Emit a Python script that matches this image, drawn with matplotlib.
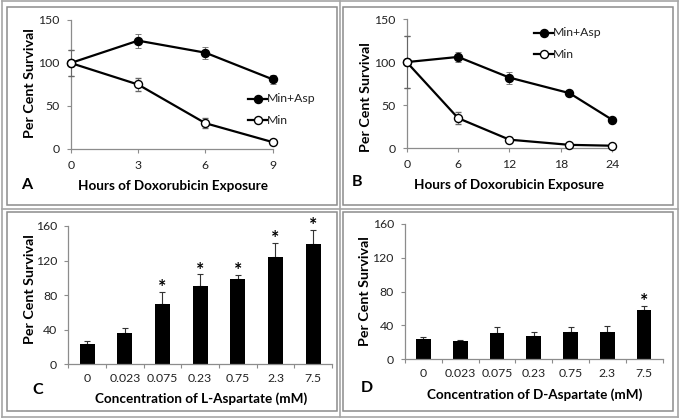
import matplotlib
matplotlib.use("Agg")
import matplotlib.pyplot as plt
from matplotlib.patches import Rectangle
import numpy as np

plt.rcParams['font.family'] = ['Lato', 'DejaVu Sans']

# ---- data ----
hoursA = [0, 3, 6, 9]
minaspA = [100, 126, 112, 81]
minaspA_err = [15, 8, 7, 5]
minA = [100, 75, 30, 8]
minA_err = [15, 8, 6, 2]

hoursB = [0, 6, 12, 19, 24]
minaspB = [100, 106, 82, 64, 33]
minaspB_err = [30, 6, 7, 2, 2]
minB = [100, 35, 10, 4, 3]
minB_err = [30, 7, 3, 1, 1]

conc_labels = ["0", "0.023", "0.075", "0.23", "0.75", "2.3", "7.5"]
survL = [24, 36.5, 70, 91, 99, 124, 139.5]
survL_err = [3.5, 5, 14, 13, 4, 16, 16]
sigL = [False, False, True, True, True, True, True]
survD = [23.5, 21, 30.5, 27, 31.5, 31.5, 57.5]
survD_err = [3, 1, 7, 5, 6, 8, 5]
sigD = [False, False, False, False, False, False, True]

W, H = 680, 418
fig = plt.figure(figsize=(W / 100, H / 100), dpi=100)


def px_rect(l, r, b, t):
    return [l / W, 1 - b / H, (r - l) / W, (b - t) / H]


def ftext(x, y, s, **kw):
    fig.text(x / W, 1 - y / H, s, **kw)


GRAY = '#a6a6a6'


def hline(y, x0, x1, c=GRAY, lw=1.2):
    fig.add_artist(plt.Line2D([x0 / W, x1 / W], [1 - y / H, 1 - y / H], color=c, lw=lw))


def vline(x, y0, y1, c=GRAY, lw=1.2):
    fig.add_artist(plt.Line2D([x / W, x / W], [1 - y0 / H, 1 - y1 / H], color=c, lw=lw))

# outer frame & separators
hline(1.0, 1.5, 678)
hline(416.5, 1.5, 678)
vline(1.5, 1, 416.5)
vline(678, 1, 416.5)
hline(208.5, 1.5, 678)
vline(339.8, 1, 416.5)
# inner panel boxes
for (l, r, t, b) in [(7, 336.5, 7, 205), (342.8, 673, 7, 205),
                     (7, 336.5, 212.3, 411.3), (342.8, 673, 212.3, 411.3)]:
    fig.add_artist(Rectangle((l / W, 1 - b / H), (r - l) / W, (b - t) / H,
                             transform=fig.transFigure, fill=False,
                             edgecolor='#8c8c8c', lw=1.1))

TICKFS = 8.8
XLABFS = 9.7
YLABFS = 10.3
LETFS = 11.5
AXC = '#8c8c8c'


def style(ax):
    for s in ['top', 'right']:
        ax.spines[s].set_visible(False)
    for s in ['left', 'bottom']:
        ax.spines[s].set_color(AXC)
        ax.spines[s].set_linewidth(0.9)
    ax.tick_params(axis='both', colors=AXC, labelcolor='#222222',
                   labelsize=TICKFS, length=3, width=0.8)
    ax.tick_params(axis='y', pad=5)
    ax.set_facecolor('none')


def line_panel(rect, x, ya, ea, yb, eb, xticks, ylab_pos, xlab_pos, letter_pos, letter,
               leg_pos):
    ax = fig.add_axes(rect)
    style(ax)
    ax.errorbar(x, ya, yerr=ea, color='black', lw=1.6, marker='o', ms=5.8,
                mfc='black', mec='black', ecolor='#666666', elinewidth=0.6,
                capsize=2, capthick=0.6, label='Min+Asp', zorder=3)
    ax.errorbar(x, yb, yerr=eb, color='black', lw=1.6, marker='o', ms=5.8,
                mfc='white', mec='black', mew=1.0, ecolor='#666666', elinewidth=0.6,
                capsize=2, capthick=0.6, label='Min', zorder=3)
    ax.set_xlim(xticks[0], xticks[-1])
    ax.set_ylim(0, 150)
    ax.set_xticks(xticks)
    ax.set_yticks([0, 50, 100, 150])
    ax.tick_params(axis='x', pad=5)
    for a in ax.get_children():
        try:
            a.set_clip_on(False)
        except Exception:
            pass
    ftext(ylab_pos[0], ylab_pos[1], 'Per Cent Survival', rotation=90, ha='center',
          va='center', fontsize=YLABFS, fontweight='bold')
    ftext(xlab_pos[0], xlab_pos[1], 'Hours of Doxorubicin Exposure', ha='center',
          va='center', fontsize=XLABFS, fontweight='bold')
    ftext(letter_pos[0], letter_pos[1], letter, ha='center', va='center',
          fontsize=LETFS, fontweight='bold')
    # legend
    for i, (lab, fc) in enumerate([('Min+Asp', 'black'), ('Min', 'white')]):
        lx, ly = leg_pos[0], leg_pos[1] + i * 21
        fig.add_artist(plt.Line2D([(lx - 10) / W, (lx + 9) / W], [1 - ly / H, 1 - ly / H],
                                  color='black', lw=1.6))
        fig.add_artist(plt.Line2D([lx / W], [1 - ly / H], marker='o', ms=5.8,
                                  mfc=fc, mec='black', mew=1.0, color='black'))
        ftext(lx + 9, ly, lab, ha='left', va='center', fontsize=TICKFS, color='#222222')
    return ax


line_panel(px_rect(70.7, 272.7, 149, 20), hoursA, minaspA, minaspA_err, minA, minA_err,
           [0, 3, 6, 9], (30, 83), (172.5, 186.5), (26.5, 185), 'A', (258, 99))
line_panel(px_rect(406.7, 612.3, 148.3, 19), hoursB, minaspB, minaspB_err, minB, minB_err,
           [0, 6, 12, 18, 24], (366.5, 97), (509.5, 185), (357, 182), 'B', (544, 33))


def bar_panel(rect, vals, errs, sig, xlabel, ylab_pos, xlab_pos, letter_pos, letter, tickpad):
    ax = fig.add_axes(rect)
    style(ax)
    x = np.arange(len(vals))
    ax.bar(x, vals, width=0.4, color='black', zorder=2)
    ax.errorbar(x, vals, yerr=[np.zeros(len(errs)), errs], fmt='none', ecolor='#333333',
                elinewidth=0.8, capsize=2.5, capthick=0.8, zorder=1)
    ax.set_xlim(-0.5, len(vals) - 0.5)
    ax.set_ylim(0, 160)
    ax.set_yticks([0, 40, 80, 120, 160])
    ax.set_xticks(np.arange(len(vals) + 1) - 0.5)
    ax.set_xticklabels([])
    ax.set_xticks(x, minor=True)
    ax.set_xticklabels(conc_labels, minor=True)
    ax.tick_params(axis='x', which='minor', length=0, pad=tickpad,
                   labelsize=TICKFS, labelcolor='#222222')
    for xi, v, e, s in zip(x, vals, errs, sig):
        if s:
            ax.annotate('*', (xi, v + e), xytext=(0, -3), textcoords='offset points',
                        ha='center', va='bottom', fontsize=14, fontweight='bold',
                        annotation_clip=False)
    ftext(ylab_pos[0], ylab_pos[1], 'Per Cent Survival', rotation=90, ha='center',
          va='center', fontsize=YLABFS, fontweight='bold')
    ftext(xlab_pos[0], xlab_pos[1], xlabel, ha='center', va='center',
          fontsize=XLABFS, fontweight='bold')
    ftext(letter_pos[0], letter_pos[1], letter, ha='center', va='center',
          fontsize=LETFS, fontweight='bold')
    return ax


bar_panel(px_rect(68.3, 332, 364.3, 226), survL, survL_err, sigL,
          'Concentration of L-Aspartate (mM)', (30.5, 289), (201.5, 398.5), (38, 390), 'C', 6.5)
bar_panel(px_rect(405, 662.5, 359, 224), survD, survD_err, sigD,
          'Concentration of D-Aspartate (mM)', (365, 291), (534.5, 394.5), (366.5, 388.5), 'D', 6.5)

fig.savefig('out.png', dpi=100)
